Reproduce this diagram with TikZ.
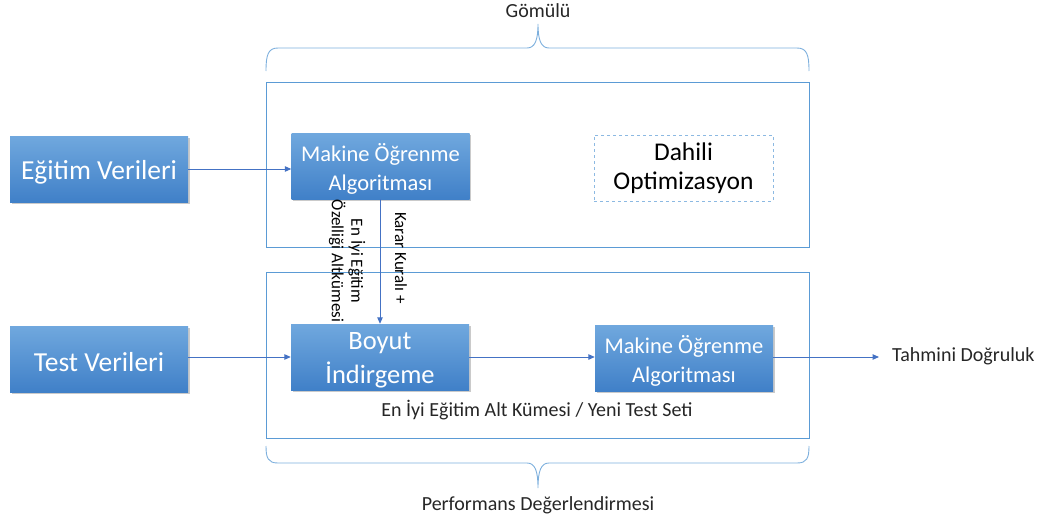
\documentclass[tikz,border=0pt]{standalone}
\usepackage{fontspec}
\setmainfont{Carlito}
\usetikzlibrary{arrows.meta,shadows}
\definecolor{frameblue}{RGB}{91,155,213}
\definecolor{arrowblue}{RGB}{68,114,196}
\definecolor{boxtop}{RGB}{112,168,222}
\definecolor{boxbot}{RGB}{64,128,200}
\tikzset{
  procbox/.style={rectangle, minimum width=178pt, minimum height=66pt, inner sep=0pt,
    top color=boxtop, bottom color=boxbot, draw=none,
    drop shadow={shadow xshift=1.5pt, shadow yshift=-2pt, opacity=0.35, fill=black!60}},
  boxtext/.style={text=white, align=center, inner sep=0pt, yshift=-3pt},
  frame/.style={draw=frameblue, line width=0.8pt},
  brace/.style={draw=frameblue!80, line width=0.9pt},
  flow/.style={draw=arrowblue, line width=1pt, -{Triangle[length=6.5pt,width=5.5pt]}},
  label/.style={text=black!85, font=\fontsize{20}{24}\selectfont},
  sidelabel/.style={rotate=-90, align=center, inner sep=0pt, text=black, font=\fontsize{17}{19.5}\selectfont},
}
\begin{document}
\begin{tikzpicture}[x=1pt,y=-1pt]
\useasboundingbox (0,0) rectangle (1041,522);

% outer stages
\node[frame, minimum width=543pt, minimum height=165pt, inner sep=0pt] (emb) at (537.5,164.5) {};
\node[frame, minimum width=543pt, minimum height=166pt, inner sep=0pt] (perf) at (537.5,355) {};

% input data
\node[procbox] (train) at (99,169) {};
\node[boxtext, font=\fontsize{27.5}{30}\selectfont] (train-t) at (train.center) {Eğitim Verileri};
\node[procbox] (test) at (99,359) {};
\node[boxtext, font=\fontsize{27.5}{30}\selectfont] (test-t) at (test.center) {Test Verileri};

% learning and reduction steps
\node[procbox] (ml1) at (380.5,166) {};
\node[boxtext, font=\fontsize{22.5}{29}\selectfont] (ml1-t) at (ml1.center) {Makine Öğrenme\\Algoritması};
\node[procbox] (dimred) at (380,357) {};
\node[boxtext, font=\fontsize{26.5}{34}\selectfont] (dimred-t) at (dimred.center) {Boyut\\İndirgeme};
\node[procbox] (ml2) at (684,358) {};
\node[boxtext, font=\fontsize{22.5}{29}\selectfont] (ml2-t) at (ml2.center) {Makine Öğrenme\\Algoritması};

% embedded optimisation
\node[draw=frameblue!70, dashed, line width=0.7pt, minimum width=179pt, minimum height=66pt,
  align=center, font=\fontsize{25.5}{29}\selectfont] (opt) at (683.5,168) {Dahili\\Optimizasyon};

% result
\node[label, anchor=west, inner sep=0pt] (acc) at (892,356) {Tahmini Doğruluk};
\coordinate (accin) at (879,357);

% connectors
\draw[flow] (train.east) -- (ml1.west |- train.east);
\draw[flow] (test.east |- 0,357) -- (dimred.west |- 0,357);
\draw[flow] (dimred.east |- 0,357) -- (ml2.west |- 0,357);
\draw[flow] (ml2.east |- 0,357) -- (accin);
\draw[flow] (ml1.south -| 380,0) -- (dimred.north -| 380,0);

% rotated labels beside the vertical link
\node[sidelabel] (feat) at (347,261) {En İyi Eğitim\\Özelliği Altkümesi};
\node[sidelabel] (rule) at (401,258) {Karar Kuralı +};

% subset caption
\node[label, inner sep=0pt] (subset) at (537,410) {En İyi Eğitim Alt Kümesi / Yeni Test Seti};

% top brace
\draw[brace] (266,71) .. controls (266,55) and (268,48) .. (278,48) -- (527,48)
  .. controls (535,48) and (538,40) .. (538,24)
  .. controls (538,40) and (541,48) .. (549,48) -- (797,48)
  .. controls (807,48) and (809,55) .. (809,71);
\node[label, inner sep=0pt] (embl) at (538,11) {Gömülü};

% bottom brace
\draw[brace] (266,446) .. controls (266,458) and (268,463) .. (278,463) -- (527,463)
  .. controls (535,463) and (538,471) .. (538,488)
  .. controls (538,471) and (541,463) .. (549,463) -- (797,463)
  .. controls (807,463) and (809,458) .. (809,446);
\node[label, inner sep=0pt] (perfl) at (538,505) {Performans Değerlendirmesi};
\end{tikzpicture}
\end{document}
